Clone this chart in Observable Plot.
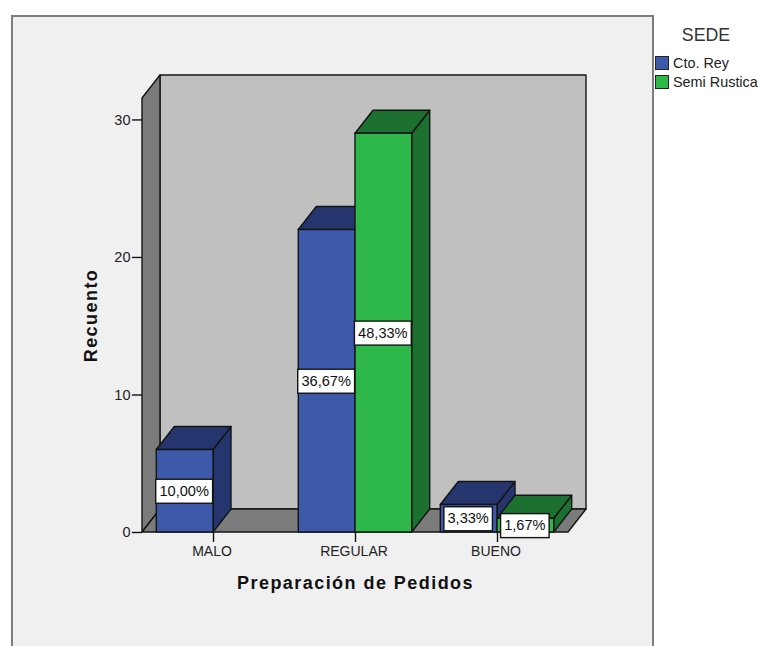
<!DOCTYPE html>
<html lang="es">
<head>
<meta charset="utf-8">
<script src="https://cdn.jsdelivr.net/npm/d3@7"></script>
<script src="https://cdn.jsdelivr.net/npm/@observablehq/plot@0.6"></script>
<style>
  html, body { margin: 0; padding: 0; background: #fff; overflow: hidden; }
  #page { position: relative; width: 760px; height: 646px; overflow: hidden; font-family: "Liberation Sans", Arial, sans-serif; }
  #panel { position: absolute; left: 11px; top: 15px; width: 639px; height: 660px; background: #f0f0f0; border: 2px solid #7c7c7c; }
  #chart { position: absolute; left: 0; top: 0; }
  #chart svg { display: block; }
  .legend-title { position: absolute; left: 666px; width: 80px; top: 25px; text-align: center; font-size: 17.8px; line-height: 20px; color: #333; }
  .legend-item { position: absolute; left: 655px; height: 14px; white-space: nowrap; font-size: 14.4px; line-height: 14px; color: #222; }
  .legend-item i { position: absolute; left: 0; top: 0; width: 12px; height: 12px; border: 1px solid #222; }
  .legend-item span { position: absolute; left: 18px; top: 0; }
</style>
</head>
<body>
<div id="page">
  <div id="panel"></div>
  <div id="chart"></div>
</div>
<script>
// Recuento por categoría y sede
const categorias = ["MALO", "REGULAR", "BUENO"];
const sedes = ["Cto. Rey", "Semi Rustica"];
const ctoRey = [6, 22, 2];
const semiRustica = [0, 29, 1];
const etiquetasCto = ["10,00%", "36,67%", "3,33%"];
const etiquetasSemi = ["0,00%", "48,33%", "1,67%"];
const ticksY = [0, 10, 20, 30];

// Colores de las caras y profundidad de la proyección
const colores = ["#3e58aa", "#2eb84a"];
const sombras = new Map([["#3e58aa", "#25366e"], ["#2eb84a", "#1c7030"]]);
const pared = "#c0c0c0";
const lateral = "#7b7b7b";
const tinta = "#141414";
const fondoX = 18;
const fondoY = -23;
const fuente = '"Liberation Sans", Arial, sans-serif';

const filas = categorias.flatMap((categoria, i) => [
  {categoria, sede: sedes[0], valor: ctoRey[i], etiqueta: etiquetasCto[i]},
  {categoria, sede: sedes[1], valor: semiRustica[i], etiqueta: etiquetasSemi[i]}
]).filter((d) => d.valor > 0);

const svgNS = "http://www.w3.org/2000/svg";

function poligono(puntos, fill) {
  const p = document.createElementNS(svgNS, "polygon");
  p.setAttribute("points", puntos.map((q) => q.join(",")).join(" "));
  p.setAttribute("fill", fill);
  p.setAttribute("stroke", tinta);
  p.setAttribute("stroke-width", 1.4);
  p.setAttribute("stroke-linejoin", "round");
  return p;
}

// Caja del gráfico: pared del fondo, pared lateral y suelo
function caja(index, scales, values, dimensions) {
  const {width, height, marginLeft, marginRight, marginTop, marginBottom} = dimensions;
  const x0 = marginLeft, x1 = width - marginRight;
  const y0 = height - marginBottom, y1 = marginTop;
  const g = document.createElementNS(svgNS, "g");
  g.append(
    poligono([[x0 + fondoX, y0 + fondoY], [x1 + fondoX, y0 + fondoY], [x1 + fondoX, y1 + fondoY], [x0 + fondoX, y1 + fondoY]], pared),
    poligono([[x0, y0], [x0 + fondoX, y0 + fondoY], [x0 + fondoX, y1 + fondoY], [x0, y1]], lateral),
    poligono([[x0, y0], [x0 + fondoX, y0 + fondoY], [x1 + fondoX, y0 + fondoY], [x1, y0]], lateral)
  );
  return g;
}

// Añade la tapa y el costado de cada barra antes de su cara frontal
function prisma(index, scales, values, dimensions, context, next) {
  const g = next(index, scales, values, dimensions, context);
  const rects = Array.from(g.querySelectorAll("rect"));
  index.forEach((i, k) => {
    const rect = rects[k];
    const izq = +rect.getAttribute("x");
    const der = izq + +rect.getAttribute("width");
    const alto = +rect.getAttribute("y");
    const base = alto + +rect.getAttribute("height");
    const sombra = sombras.get(values.fill[i]);
    rect.setAttribute("stroke", tinta);
    rect.setAttribute("stroke-width", 1.4);
    rect.parentNode.insertBefore(poligono([[der, base], [der + fondoX, base + fondoY], [der + fondoX, alto + fondoY], [der, alto]], sombra), rect);
    rect.parentNode.insertBefore(poligono([[izq, alto], [izq + fondoX, alto + fondoY], [der + fondoX, alto + fondoY], [der, alto]], sombra), rect);
  });
  return g;
}

// Recuadro blanco detrás de cada porcentaje
const medidor = document.createElement("canvas").getContext("2d");
medidor.font = `15px ${fuente}`;

function recuadro(index, scales, values, dimensions, context, next) {
  const g = next(index, scales, values, dimensions, context);
  const textos = Array.from(g.querySelectorAll("text"));
  textos.forEach((t) => {
    const w = medidor.measureText(t.textContent).width + 6;
    const r = document.createElementNS(svgNS, "rect");
    r.setAttribute("x", -w / 2);
    r.setAttribute("y", -12);
    r.setAttribute("width", w);
    r.setAttribute("height", 24);
    r.setAttribute("fill", "#fff");
    r.setAttribute("stroke", tinta);
    r.setAttribute("stroke-width", 1.4);
    r.setAttribute("transform", t.getAttribute("transform"));
    t.parentNode.insertBefore(r, t);
  });
  return g;
}

// Títulos de eje con las letras algo separadas
function espaciado(index, scales, values, dimensions, context, next) {
  const g = next(index, scales, values, dimensions, context);
  g.style.letterSpacing = "1.45px";
  return g;
}

const grafico = Plot.plot({
  width: 760,
  height: 646,
  marginLeft: 142,
  marginRight: 192,
  marginTop: 98,
  marginBottom: 114,
  style: {background: "transparent", fontFamily: fuente},
  fx: {domain: categorias, padding: 0, round: false, axis: null},
  x: {domain: sedes, paddingInner: 0, paddingOuter: 0.2522, round: false, axis: null},
  y: {domain: [0, 31.56], axis: null},
  color: {domain: sedes, range: colores},
  marks: [
    Plot.frame({facet: "super", render: caja}),
    Plot.axisY({
      ticks: ticksY, tickSize: 10, tickPadding: 2, label: null,
      fontSize: 14.5, stroke: tinta, strokeWidth: 1.4, color: "#222"
    }),
    Plot.axisFx({
      anchor: "bottom", tickSize: 10, tickFormat: () => "", label: null,
      stroke: tinta, strokeWidth: 1.4
    }),
    Plot.axisFx({
      anchor: "bottom", tickSize: 0, tickPadding: 14, label: null, dx: -1.5,
      fontSize: 14, color: "#222"
    }),
    Plot.barY(filas, {
      fx: "categoria", x: "sede", y: "valor", fill: "sede", render: prisma
    }),
    Plot.text(filas, {
      fx: "categoria", x: "sede", y: (d) => d.valor / 2, text: "etiqueta", dx: -1,
      fontSize: 14.6, fill: "#111", render: recuadro
    }),
    Plot.text(["Recuento"], {
      facet: "super", frameAnchor: "left", dx: -51, rotate: -90, text: (d) => d,
      textAnchor: "middle", lineAnchor: "middle",
      fontSize: 18, fontWeight: "bold", fill: "#111", render: espaciado
    }),
    Plot.text(["Preparación de Pedidos"], {
      facet: "super", frameAnchor: "bottom", dy: 51, text: (d) => d,
      textAnchor: "middle", lineAnchor: "middle",
      fontSize: 18, fontWeight: "bold", fill: "#111", render: espaciado
    })
  ]
});
document.getElementById("chart").append(grafico);

// Leyenda de sedes
const pagina = document.getElementById("page");
const titulo = document.createElement("div");
titulo.className = "legend-title";
titulo.textContent = "SEDE";
pagina.append(titulo);
sedes.forEach((sede, i) => {
  const item = document.createElement("div");
  item.className = "legend-item";
  item.style.top = `${56 + i * 18.5}px`;
  const marca = document.createElement("i");
  marca.style.background = colores[i];
  const texto = document.createElement("span");
  texto.textContent = sede;
  item.append(marca, texto);
  pagina.append(item);
});
</script>
</body>
</html>
